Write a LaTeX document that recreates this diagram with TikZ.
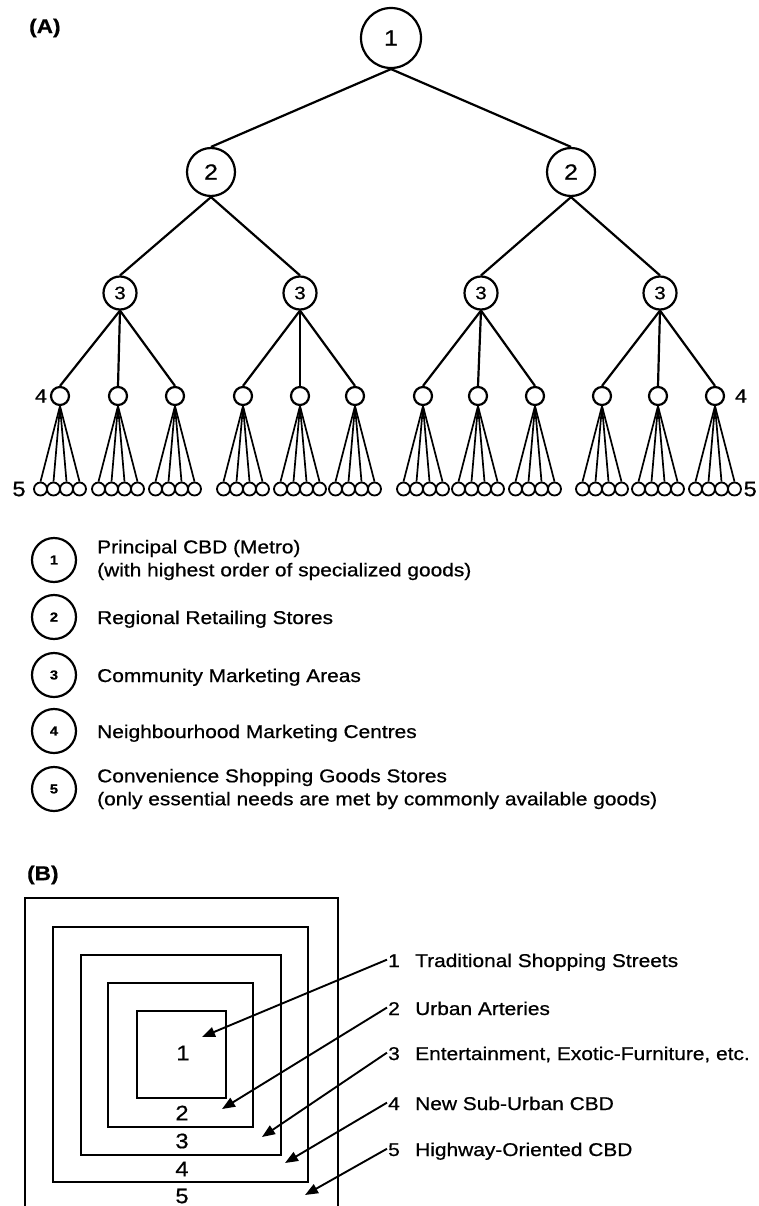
\documentclass[tikz,border=0pt]{standalone}
\usepackage{fontspec}
\setmainfont{Liberation Sans}[FakeStretch=1.13, FakeBold=0.7]
\usetikzlibrary{arrows.meta}

\tikzset{
  txt/.style={font=\fontsize{18.5}{23}\selectfont, inner sep=0pt},
  ordA/.style={circle, draw, line width=2.2pt, minimum size=60pt, inner sep=0pt, font=\fontsize{22}{22}\selectfont},
  ordB/.style={circle, draw, line width=2.2pt, minimum size=48pt, inner sep=0pt, font=\fontsize{22}{22}\selectfont},
  ordC/.style={circle, draw, line width=2.2pt, minimum size=33pt, inner sep=0pt, font=\fontsize{18}{18}\selectfont},
  ordD/.style={circle, draw, line width=2.2pt, minimum size=18pt, inner sep=0pt},
  ordE/.style={circle, draw, line width=1.8pt, minimum size=13pt, inner sep=0pt},
  legc/.style={circle, draw, line width=2.2pt, minimum size=44pt, inner sep=0pt, font=\bfseries\fontsize{13}{13}\selectfont},
  tag/.style={font=\bfseries\fontsize{20}{20}\selectfont, inner sep=0pt},
  lvl/.style={font=\fontsize{19}{19}\selectfont, inner sep=0pt},
  edge/.style={line width=2.2pt},
  fan/.style={line width=1.7pt},
  zone/.style={line width=2.3pt},
  pointer/.style={line width=1.9pt, -{Triangle[length=13pt,width=10pt]}},
}

\begin{document}
\begin{tikzpicture}[x=1pt, y=-1pt]
\useasboundingbox (0,0) rectangle (758,1206);

% ---------------- (A) hierarchy of retail centres ----------------
\node[tag, anchor=west] (tA) at (29,28) {(A)};

\node[ordA] (r) at (391,38) {1};
\node[ordB] (a1) at (211,172) {2};
\node[ordB] (a2) at (571,172) {2};
\draw[edge] (r.south) -- (a1.north);
\draw[edge] (r.south) -- (a2.north);

\foreach \i/\x/\p in {1/120/a1, 2/300/a1, 3/481/a2, 4/660/a2} {
  \node[ordC] (b\i) at (\x,293) {3};
  \draw[edge] (\p.south) -- (b\i.north);
}

\foreach \j/\x/\p in {1/60/b1, 2/118/b1, 3/175/b1, 4/243/b2, 5/300/b2, 6/355/b2,
                      7/423/b3, 8/478/b3, 9/535/b3, 10/602/b4, 11/658/b4, 12/715/b4} {
  \node[ordD] (c\j) at (\x,396) {};
  \draw[edge] (\p.south) -- (c\j.north);
  \foreach \k/\dx in {1/-19.5, 2/-6.5, 3/6.5, 4/19.5} {
    \node[ordE] (e\j-\k) at ({\x+(\dx)},489) {};
    \draw[fan] (c\j.south) -- (e\j-\k.north);
  }
}

\node[lvl] (q4a) at (41,396) {4};
\node[lvl] (q4b) at (741,396) {4};
\node[lvl, font=\fontsize{21}{21}\selectfont] (q5a) at (19,489) {5};
\node[lvl, font=\fontsize{21}{21}\selectfont, anchor=east] (q5b) at (757,489) {5};

% ---------------- key ----------------
\foreach \i/\y in {1/560, 2/617, 3/675, 4/731, 5/789} {
  \node[legc] (g\i) at (54,\y) {\i};
}
\node[txt, anchor=west, align=left] (h1) at (97,560) {Principal CBD (Metro)\\(with highest order of specialized goods)};
\node[txt, anchor=base west] (h2) at (97,624) {Regional Retailing Stores};
\node[txt, anchor=base west] (h3) at (97,682) {Community Marketing Areas};
\node[txt, anchor=base west] (h4) at (97,738) {Neighbourhood Marketing Centres};
\node[txt, anchor=west, align=left] (h5) at (97,789) {Convenience Shopping Goods Stores\\(only essential needs are met by commonly available goods)};

% ---------------- (B) concentric zones ----------------
\node[tag, anchor=west] (tB) at (27,875) {(B)};

\draw[zone] (25,1210) -- (25,898) -- (338,898) -- (338,1210);
\draw[zone] (53,927) rectangle (308,1182);
\draw[zone] (81,955) rectangle (281,1155);
\draw[zone] (108,983) rectangle (253,1127);
\draw[zone] (137,1011) rectangle (226,1098);

\node[lvl, font=\fontsize{21}{21}\selectfont] (z1) at (183,1053) {1};
\node[lvl, font=\fontsize{21}{21}\selectfont] (z2) at (182,1113) {2};
\node[lvl, font=\fontsize{21}{21}\selectfont] (z3) at (182,1141) {3};
\node[lvl, font=\fontsize{21}{21}\selectfont] (z4) at (182,1169) {4};
\node[lvl, font=\fontsize{21}{21}\selectfont] (z5) at (182,1196) {5};

% zone names with pointers
\foreach \i/\y/\tx/\ty/\name in {
    1/960/202/1037/Traditional Shopping Streets,
    2/1008/222/1109/Urban Arteries,
    3/1053/262/1137/{Entertainment, Exotic-Furniture, etc.},
    4/1103/285/1163/New Sub-Urban CBD,
    5/1149/305/1195/Highway-Oriented CBD} {
  \node[txt, anchor=base west] (k\i) at (388,\y+7) {\i};
  \node[txt, anchor=base west] (n\i) at (415,\y+7) {\name};
  \coordinate (p\i) at (\tx,\ty);
  \draw[pointer] ([xshift=-1pt,yshift=1pt]k\i.west) -- (p\i);
}
\end{tikzpicture}
\end{document}
